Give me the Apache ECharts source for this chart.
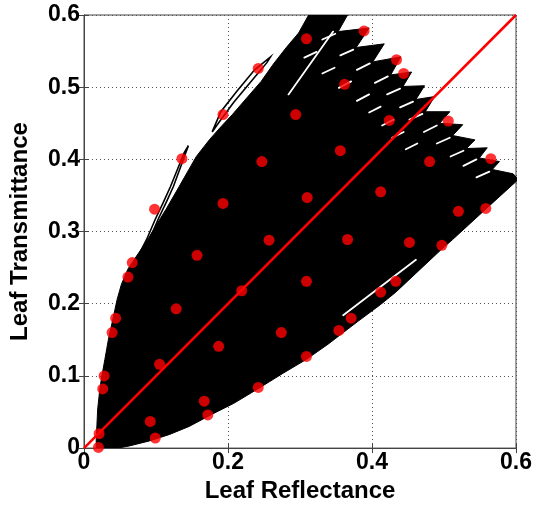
<!DOCTYPE html>
<html>
<head>
<meta charset="utf-8">
<script src="https://cdn.jsdelivr.net/npm/echarts@6/dist/echarts.min.js"></script>
<style>
  html, body { margin: 0; padding: 0; background: #fff; }
  #chart { width: 535px; height: 508px; }
</style>
</head>
<body>
<div id="chart"></div>
<script>
// Measured leaf samples: reflectance (x) and transmittance (y)
const sampleReflectance = [
  0.356, 0.309, 0.389, 0.362, 0.434, 0.444, 0.294, 0.424, 0.506, 0.356,
  0.247, 0.480, 0.565, 0.310, 0.412, 0.520, 0.558, 0.257, 0.366, 0.452,
  0.497, 0.242, 0.193, 0.136, 0.098, 0.193, 0.067, 0.061, 0.157, 0.219,
  0.128, 0.044, 0.039, 0.187, 0.105, 0.028, 0.026, 0.242, 0.167, 0.172,
  0.092, 0.099, 0.021, 0.020, 0.309, 0.274, 0.309, 0.354, 0.371, 0.412,
  0.433
];
const sampleTransmittance = [
  0.603, 0.567, 0.578, 0.504, 0.538, 0.519, 0.462, 0.454, 0.453, 0.412,
  0.397, 0.397, 0.401, 0.347, 0.355, 0.328, 0.332, 0.288, 0.289, 0.285,
  0.281, 0.526, 0.462, 0.401, 0.331, 0.339, 0.257, 0.237, 0.267, 0.218,
  0.193, 0.180, 0.160, 0.141, 0.116, 0.100, 0.082, 0.084, 0.065, 0.046,
  0.037, 0.014, 0.020, 0.001, 0.231, 0.160, 0.127, 0.163, 0.180, 0.216,
  0.231
];

// 1:1 reference line
const oneToOne = [[0, 0], [0.6, 0.6]];

// Outline of the simulated (reflectance, transmittance) envelope
const envelopeOutline = [
  [0.017, 0.000], [0.017, 0.012], [0.018, 0.033], [0.019, 0.054], [0.022, 0.082],
  [0.025, 0.101], [0.029, 0.123], [0.034, 0.151], [0.040, 0.178], [0.046, 0.206],
  [0.052, 0.227], [0.061, 0.248], [0.073, 0.266], [0.086, 0.285], [0.101, 0.310],
  [0.114, 0.331], [0.132, 0.362], [0.156, 0.404], [0.174, 0.427], [0.190, 0.445],
  [0.206, 0.462], [0.226, 0.485], [0.246, 0.508], [0.263, 0.532], [0.281, 0.555],
  [0.298, 0.575], [0.312, 0.600], [0.366, 0.600],
  [0.353, 0.577], [0.396, 0.582], [0.378, 0.555], [0.417, 0.560], [0.401, 0.535],
  [0.440, 0.542], [0.426, 0.517], [0.455, 0.521], [0.443, 0.501], [0.473, 0.502],
  [0.461, 0.483], [0.487, 0.487], [0.474, 0.466], [0.508, 0.466], [0.494, 0.450],
  [0.526, 0.448], [0.512, 0.433], [0.543, 0.427], [0.531, 0.415], [0.560, 0.416],
  [0.549, 0.402], [0.577, 0.397], [0.567, 0.386], [0.596, 0.380], [0.603, 0.372],
  [0.559, 0.332], [0.512, 0.289], [0.495, 0.274], [0.433, 0.216], [0.412, 0.199],
  [0.381, 0.176], [0.339, 0.144], [0.309, 0.123], [0.277, 0.104], [0.243, 0.083],
  [0.208, 0.062], [0.178, 0.047], [0.146, 0.030], [0.119, 0.019], [0.091, 0.010],
  [0.063, 0.003], [0.047, 0.000]
];

// Thin stray curves that leave the envelope on its upper-left side
const strayCurveA = [
  [0.074, 0.264], [0.087, 0.289], [0.099, 0.317], [0.110, 0.340], [0.120, 0.362],
  [0.131, 0.389], [0.139, 0.409], [0.145, 0.419], [0.142, 0.411], [0.134, 0.389],
  [0.124, 0.362], [0.114, 0.340], [0.103, 0.317], [0.091, 0.289], [0.079, 0.264]
];
const strayCurveB = [
  [0.178, 0.438], [0.190, 0.466], [0.212, 0.494], [0.237, 0.524], [0.259, 0.542],
  [0.254, 0.534], [0.232, 0.508], [0.208, 0.479], [0.188, 0.452], [0.178, 0.438]
];

// Gaps between the individual curves inside the envelope [x1, y1, x2, y2]
const curveGaps = [
  [0.284, 0.490, 0.346, 0.577],
  [0.331, 0.566, 0.349, 0.574], [0.356, 0.544, 0.374, 0.552], [0.379, 0.524, 0.397, 0.533],
  [0.404, 0.506, 0.422, 0.515], [0.421, 0.490, 0.439, 0.498], [0.439, 0.472, 0.457, 0.480],
  [0.452, 0.455, 0.470, 0.463], [0.472, 0.438, 0.490, 0.447], [0.490, 0.422, 0.508, 0.430],
  [0.509, 0.404, 0.527, 0.412], [0.527, 0.391, 0.545, 0.400], [0.545, 0.375, 0.563, 0.383],
  [0.306, 0.541, 0.323, 0.549], [0.331, 0.519, 0.348, 0.527], [0.354, 0.499, 0.371, 0.508],
  [0.379, 0.481, 0.396, 0.490], [0.396, 0.465, 0.412, 0.473], [0.414, 0.447, 0.430, 0.455],
  [0.428, 0.430, 0.444, 0.438], [0.447, 0.414, 0.463, 0.422],
  [0.360, 0.184, 0.461, 0.261]
];

// Tick labels
const xTickLabels = ['0', '0.2', '0.4', '0.6'];
const yTickLabels = ['0', '0.1', '0.2', '0.3', '0.4', '0.5', '0.6'];

const chart = echarts.init(document.getElementById('chart'), null, { renderer: 'canvas' });

const FONT = '"Liberation Sans", Arial, Helvetica, sans-serif';
const tickFmt = (labels, step) => (v) => labels[Math.round(v / step)] ?? '';

const dotted = { type: [1, 3], color: '#555', width: 1 };

chart.setOption({
  backgroundColor: '#ffffff',
  animation: false,
  grid: {
    left: 84, right: 16, top: 15, bottom: 59,
    show: true, borderColor: '#444', borderWidth: 1, backgroundColor: 'transparent'
  },
  xAxis: [{
    type: 'value', min: 0, max: 0.6, interval: 0.2,
    name: 'Leaf Reflectance', nameLocation: 'middle', nameGap: 30,
    nameTextStyle: { fontFamily: FONT, fontWeight: 'bold', fontSize: 24, color: '#000' },
    axisLine: { show: true, onZero: false, lineStyle: { color: '#444', width: 1 } },
    axisTick: { show: true, inside: true, length: 5, lineStyle: { color: '#444' } },
    axisLabel: {
      margin: 3, fontFamily: FONT, fontWeight: 'bold', fontSize: 23, color: '#000',
      formatter: tickFmt(xTickLabels, 0.2)
    },
    splitLine: { show: true, lineStyle: dotted }
  }, {
    type: 'value', position: 'top', min: 0, max: 0.6, interval: 0.2,
    axisLine: { show: true, lineStyle: { color: '#444', width: 1 } },
    axisTick: { show: true, inside: true, length: 5, lineStyle: { color: '#444' } },
    axisLabel: { show: false }, splitLine: { show: false }
  }],
  yAxis: [{
    type: 'value', min: 0, max: 0.6, interval: 0.1,
    name: 'Leaf Transmittance', nameLocation: 'middle', nameGap: 52,
    nameTextStyle: { fontFamily: FONT, fontWeight: 'bold', fontSize: 24, color: '#000' },
    axisLine: { show: true, onZero: false, lineStyle: { color: '#444', width: 1 } },
    axisTick: { show: true, inside: true, length: 5, lineStyle: { color: '#444' } },
    axisLabel: {
      margin: 4, fontFamily: FONT, fontWeight: 'bold', fontSize: 23, color: '#000',
      formatter: tickFmt(yTickLabels, 0.1)
    },
    splitLine: { show: true, lineStyle: dotted }
  }, {
    type: 'value', position: 'right', min: 0, max: 0.6, interval: 0.1,
    axisLine: { show: true, lineStyle: { color: '#444', width: 1 } },
    axisTick: { show: true, inside: true, length: 5, lineStyle: { color: '#444' } },
    axisLabel: { show: false }, splitLine: { show: false }
  }],
  series: [
    {
      // filled envelope of simulated curves
      type: 'custom', name: 'envelope', silent: true, clip: true, z: 2,
      data: [0],
      renderItem: (params, api) => ({
        type: 'polygon',
        shape: { points: envelopeOutline.map(p => api.coord(p)) },
        style: { fill: '#000', stroke: '#000', lineWidth: 1 }
      })
    },
    {
      type: 'custom', name: 'stray', silent: true, clip: true, z: 3,
      data: [0],
      renderItem: (params, api) => ({
        type: 'group',
        children: [strayCurveA, strayCurveB].map(c => ({
          type: 'polyline',
          shape: { points: c.map(p => api.coord(p)) },
          style: { fill: null, stroke: '#000', lineWidth: 1.6 }
        }))
      })
    },
    {
      type: 'custom', name: 'gaps', silent: true, clip: true, z: 4,
      data: curveGaps,
      renderItem: (params, api) => {
        const a = api.coord([api.value(0), api.value(1)]);
        const b = api.coord([api.value(2), api.value(3)]);
        return {
          type: 'line',
          shape: { x1: a[0], y1: a[1], x2: b[0], y2: b[1] },
          style: { stroke: '#fff', lineWidth: 1.8, lineCap: 'round' }
        };
      }
    },
    {
      type: 'line', name: '1:1', data: oneToOne, symbol: 'none', z: 5,
      lineStyle: { color: '#ff0000', width: 2.5 }
    },
    {
      type: 'scatter', name: 'samples', z: 6,
      data: sampleReflectance.map((x, i) => [x, sampleTransmittance[i]]),
      symbol: 'circle', symbolSize: 11,
      itemStyle: { color: '#ff0000' }
    }
  ]
});
</script>
</body>
</html>
